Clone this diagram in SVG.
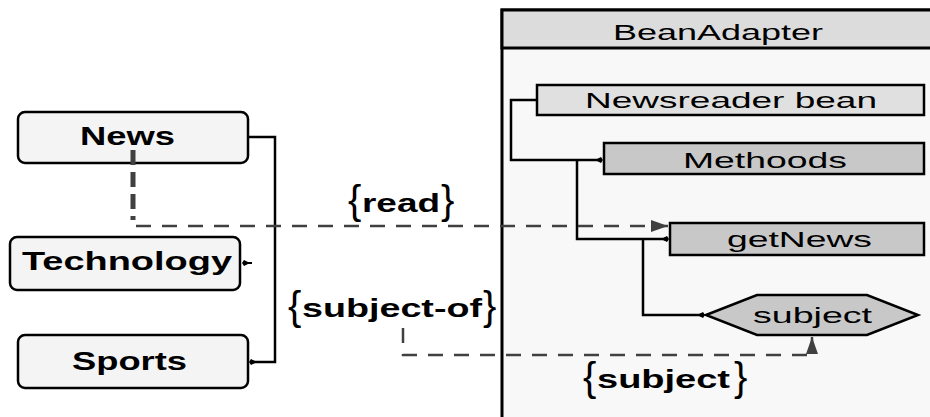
<svg xmlns="http://www.w3.org/2000/svg" width="930" height="417" viewBox="0 0 930 417">
<style>
.lnode rect{fill:#f4f4f4;stroke:#000;stroke-width:2.5}
.lt{font-family:"Liberation Sans",Arial,sans-serif;font-weight:bold;font-size:25px;fill:#000}
.bt{font-family:"Liberation Sans",Arial,sans-serif;font-size:22px;fill:#000}
.box{stroke:#000;stroke-width:2.5}
.solid{fill:none;stroke:#000;stroke-width:2.5}
.dash{fill:none;stroke:#404040;stroke-width:2.5;stroke-dasharray:15 11}
.br{font-family:"Liberation Sans",Arial,sans-serif;font-size:40px;font-weight:normal}
.lb{font-family:"Liberation Sans",Arial,sans-serif;font-weight:bold;font-size:25px}
</style>
<defs>
<marker id="dot" markerWidth="8" markerHeight="8" refX="7" refY="4" orient="auto" markerUnits="userSpaceOnUse">
<path d="M0,4 L6,1 L8,4 L6,7 Z" fill="#000"/>
</marker>
<marker id="tri" markerWidth="18" markerHeight="12" refX="17" refY="6" orient="auto" markerUnits="userSpaceOnUse">
<path d="M0,0 L17,6 L0,12 Z" fill="#404040"/>
</marker>
</defs>
<rect x="0" y="0" width="930" height="417" fill="#fff"/>

<g id="BeanAdapter">
<rect x="502" y="10" width="430" height="410" fill="#f8f8f8" stroke="#000" stroke-width="3"/>
<rect x="502" y="10" width="430" height="38" fill="#dcdcdc" stroke="#000" stroke-width="3"/>
<text class="bt" x="613" y="40" textLength="210" lengthAdjust="spacingAndGlyphs">BeanAdapter</text>
</g>

<g id="News" class="lnode">
<rect x="18" y="112" width="230" height="51" rx="7"/>
<text class="lt" x="80" y="145" textLength="95" lengthAdjust="spacingAndGlyphs">News</text>
</g>
<g id="Technology" class="lnode">
<rect x="10" y="237" width="230" height="53" rx="7"/>
<text class="lt" x="22" y="270" textLength="210" lengthAdjust="spacingAndGlyphs">Technology</text>
</g>
<g id="Sports" class="lnode">
<rect x="18" y="335" width="230" height="53" rx="7"/>
<text class="lt" x="72" y="370" textLength="115" lengthAdjust="spacingAndGlyphs">Sports</text>
</g>

<g id="Newsreader">
<rect class="box" x="537" y="85" width="387" height="30" fill="#e0e0e0"/>
<text class="bt" x="585" y="108" textLength="292" lengthAdjust="spacingAndGlyphs">Newsreader bean</text>
</g>
<g id="Methoods">
<rect class="box" x="604" y="143" width="320" height="31" fill="#c8c8c8"/>
<text class="bt" x="683" y="168" textLength="164" lengthAdjust="spacingAndGlyphs">Methoods</text>
</g>
<g id="getNews">
<rect class="box" x="670" y="223" width="254" height="32" fill="#c8c8c8"/>
<text class="bt" x="727" y="247" textLength="145" lengthAdjust="spacingAndGlyphs">getNews</text>
</g>
<g id="subject">
<polygon class="box" points="706,315 757,295 867,295 918,315 867,335 757,335" fill="#c8c8c8" stroke-width="2"/>
<text class="bt" x="753" y="323" textLength="119" lengthAdjust="spacingAndGlyphs">subject</text>
</g>

<g id="connectors">
<polyline class="solid" points="248,137 275,137 275,362 250,362" marker-end="url(#dot)"/>
<line x1="252" y1="263" x2="243" y2="263" stroke="#000" stroke-width="2" marker-end="url(#dot)"/>
<polyline class="solid" points="537,100 511,100 511,160 602,160" stroke-width="2" marker-end="url(#dot)"/>
<polyline class="solid" points="577,160 577,239 668,239" stroke-width="2" marker-end="url(#dot)"/>
<polyline class="solid" points="643,239 643,315 704,315" stroke-width="2" marker-end="url(#dot)"/>
<line x1="133" y1="150" x2="133" y2="220" stroke="#404040" stroke-width="5" stroke-dasharray="15 7"/>
<polyline class="dash" points="136,226 668,226" marker-end="url(#tri)"/>
<polyline class="dash" points="403,328 403,355 812,355 812,337" marker-end="url(#tri)"/>
</g>

<g id="labels">
<text class="br" x="348" y="214">{</text>
<text class="lb" x="362" y="212" textLength="78" lengthAdjust="spacingAndGlyphs">read</text>
<text class="br" x="441" y="214">}</text>
<text class="br" x="288" y="320">{</text>
<text class="lb" x="302" y="317" textLength="180" lengthAdjust="spacingAndGlyphs">subject-of</text>
<text class="br" x="483" y="320">}</text>
<text class="br" x="583" y="391">{</text>
<text class="lb" x="597" y="388" textLength="133" lengthAdjust="spacingAndGlyphs">subject</text>
<text class="br" x="734" y="391">}</text>
</g>
</svg>
